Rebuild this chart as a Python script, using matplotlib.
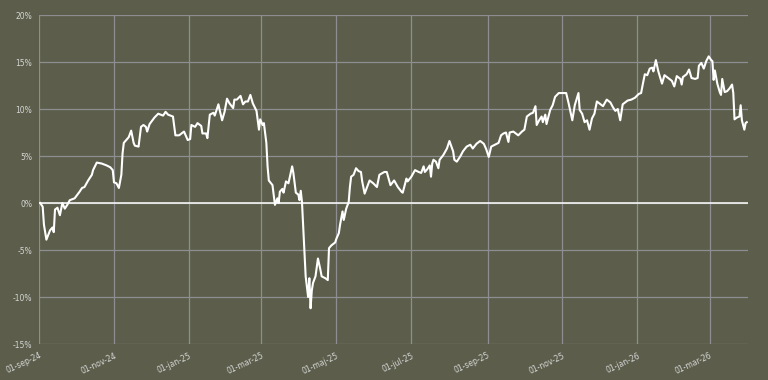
import matplotlib
matplotlib.use("Agg")
import matplotlib.pyplot as plt
import numpy as np
import pandas as pd

# days since 01-sep-24 and cumulative return (%)
days = [1, 3, 4, 6, 9, 11, 12, 13, 15, 17, 19, 21, 23, 25, 29, 33, 35, 37, 40, 43,
        44, 47, 51, 55, 58, 60, 61, 63, 65, 67, 68, 69, 73, 75, 77, 78, 81, 83, 85, 87,
        88, 90, 94, 97, 101, 103, 105, 107, 109, 111, 114, 118, 121, 123, 124, 127, 129, 132, 133, 136,
        137, 139, 142, 143, 146, 147, 149, 151, 153, 155, 158, 159, 161, 164, 166, 168, 170, 172, 174, 177,
        178, 179, 180, 182, 183, 185, 186, 187, 190, 192, 194, 195, 196, 198, 199, 201, 203, 205, 206, 207,
        209, 211, 212, 213, 214, 215, 216, 217, 218, 219, 220, 221, 222, 223, 225, 227, 229, 230, 233, 235,
        236, 238, 241, 242, 244, 245, 246, 247, 248, 250, 252, 253, 254, 256, 258, 260, 262, 263, 265, 267,
        269, 272, 275, 277, 281, 283, 286, 289, 292, 295, 296, 299, 300, 303, 306, 309, 311, 313, 314, 316,
        318, 319, 320, 321, 323, 325, 326, 329, 332, 334, 337, 338, 340, 343, 345, 348, 351, 353, 356, 359,
        362, 364, 366, 368, 371, 374, 376, 378, 380, 382, 383, 386, 390, 393, 395, 397, 400, 402, 404, 405,
        407, 409, 410, 412, 413, 416, 418, 420, 423, 427, 429, 431, 434, 436, 439, 440, 442, 444, 446, 448,
        450, 452, 454, 457, 459, 462, 465, 467, 469, 471, 473, 475, 479, 482, 485, 488, 490, 491, 493, 495,
        497, 499, 500, 502, 504, 507, 509, 512, 515, 517, 519, 522, 523, 524, 527, 529, 531, 534, 536, 537,
        539, 541, 543, 545, 547, 548, 549, 550, 552, 554, 555, 556, 558, 560, 562, 564, 565, 566, 568, 570,
        571, 572, 574, 575, 576]
pct = [0.0, -0.4, -2.3, -3.9, -2.9, -2.6, -3.1, -0.7, -0.5, -1.3, 0.0, -0.6, -0.2, 0.3, 0.5, 1.2, 1.6, 1.7, 2.4, 3.0,
       3.5, 4.3, 4.2, 4.0, 3.8, 3.5, 2.2, 2.1, 1.6, 3.0, 5.3, 6.4, 7.0, 7.7, 6.4, 6.1, 6.0, 8.1, 8.3, 8.1,
       7.6, 8.4, 9.1, 9.5, 9.3, 9.7, 9.4, 9.3, 9.2, 7.2, 7.2, 7.6, 6.7, 6.8, 8.3, 8.1, 8.5, 8.2, 7.4, 7.4,
       6.9, 9.4, 9.6, 9.3, 10.5, 9.9, 8.8, 9.7, 11.1, 10.6, 10.1, 11.0, 11.0, 11.4, 10.5, 10.8, 10.8, 11.5, 10.6, 9.8,
       8.8, 7.8, 8.9, 8.3, 8.5, 6.4, 3.9, 2.4, 1.9, -0.2, 0.5, 0.0, 1.2, 1.5, 1.1, 2.3, 2.1, 3.3, 3.9, 3.2,
       1.1, 0.9, 0.3, 1.3, 0.1, -2.5, -5.0, -7.8, -8.9, -10.0, -8.0, -11.2, -9.3, -8.5, -7.8, -5.9, -7.1, -7.8, -8.0, -8.2,
       -4.8, -4.5, -4.2, -3.8, -3.2, -2.3, -1.6, -0.9, -1.8, -0.6, 0.1, 1.7, 2.8, 3.0, 3.7, 3.4, 3.3, 2.3, 1.0, 1.7,
       2.4, 2.1, 1.7, 3.0, 3.3, 3.3, 1.9, 2.4, 1.7, 1.2, 1.1, 2.6, 2.3, 2.8, 3.5, 3.3, 3.2, 3.9, 3.3, 3.6,
       4.0, 2.8, 4.2, 4.6, 4.4, 3.7, 4.6, 5.1, 5.8, 6.6, 5.5, 4.6, 4.4, 5.0, 5.5, 6.0, 6.2, 5.8, 6.3, 6.6,
       6.3, 5.7, 4.9, 6.0, 6.2, 6.4, 7.2, 7.4, 7.5, 6.5, 7.5, 7.6, 7.2, 7.6, 7.8, 9.2, 9.5, 9.6, 10.3, 8.3,
       8.8, 9.2, 8.6, 9.4, 8.4, 9.9, 10.4, 11.3, 11.7, 11.7, 11.7, 10.6, 8.8, 10.4, 11.7, 9.9, 9.5, 8.6, 8.8, 7.8,
       9.0, 9.5, 10.8, 10.5, 10.3, 11.0, 10.7, 10.2, 9.8, 10.0, 8.8, 10.5, 10.9, 11.0, 11.2, 11.6, 11.7, 12.4, 13.7, 13.6,
       14.3, 14.4, 14.0, 15.2, 14.0, 12.7, 13.6, 13.3, 13.0, 12.4, 13.5, 13.2, 12.6, 13.4, 13.7, 14.2, 13.3, 13.2, 13.3, 14.6,
       14.9, 14.3, 15.1, 15.6, 15.2, 15.1, 13.1, 14.1, 12.7, 11.8, 11.5, 13.2, 11.8, 11.9, 12.2, 12.6, 11.7, 8.9, 9.1, 9.2,
       10.4, 8.8, 7.8, 8.5, 8.6]

tick_dates = ["2024-09-01", "2024-11-01", "2025-01-01", "2025-03-01", "2025-05-01",
              "2025-07-01", "2025-09-01", "2025-11-01", "2026-01-01", "2026-03-01"]
tick_labels = ["01-sep-24", "01-nov-24", "01-jan-25", "01-mar-25", "01-maj-25",
               "01-jul-25", "01-sep-25", "01-nov-25", "01-jan-26", "01-mar-26"]
y_ticks = [-15, -10, -5, 0, 5, 10, 15, 20]

start = pd.Timestamp("2024-09-01")
dates = start + pd.to_timedelta(days, unit="D")

bg = "#5c5e4b"
fig = plt.figure(figsize=(7.68, 3.80), dpi=100, facecolor=bg)
ax = fig.add_axes([0.0508, 0.0947, 0.9232, 0.8658], facecolor=bg)

ax.plot(dates, pct, color="white", lw=1.5, zorder=3)
ax.axhline(0, color="white", lw=1.1, zorder=2)

ax.set_ylim(-15, 20)
ax.set_xlim(start, start + pd.Timedelta(days=577))
ax.set_yticks(y_ticks)
ax.set_yticklabels([f"{v}%" for v in y_ticks])
ax.set_xticks(pd.to_datetime(tick_dates))
ax.set_xticklabels(tick_labels, rotation=25, ha="right", rotation_mode="anchor")

ax.grid(True, color="#8e8e92", lw=0.9)
ax.set_axisbelow(True)
for s in ax.spines.values():
    s.set_visible(False)
ax.tick_params(length=0, labelsize=5.5, colors="#d6d6d6", pad=5)

fig.savefig("out.png", dpi=100, facecolor=bg)
